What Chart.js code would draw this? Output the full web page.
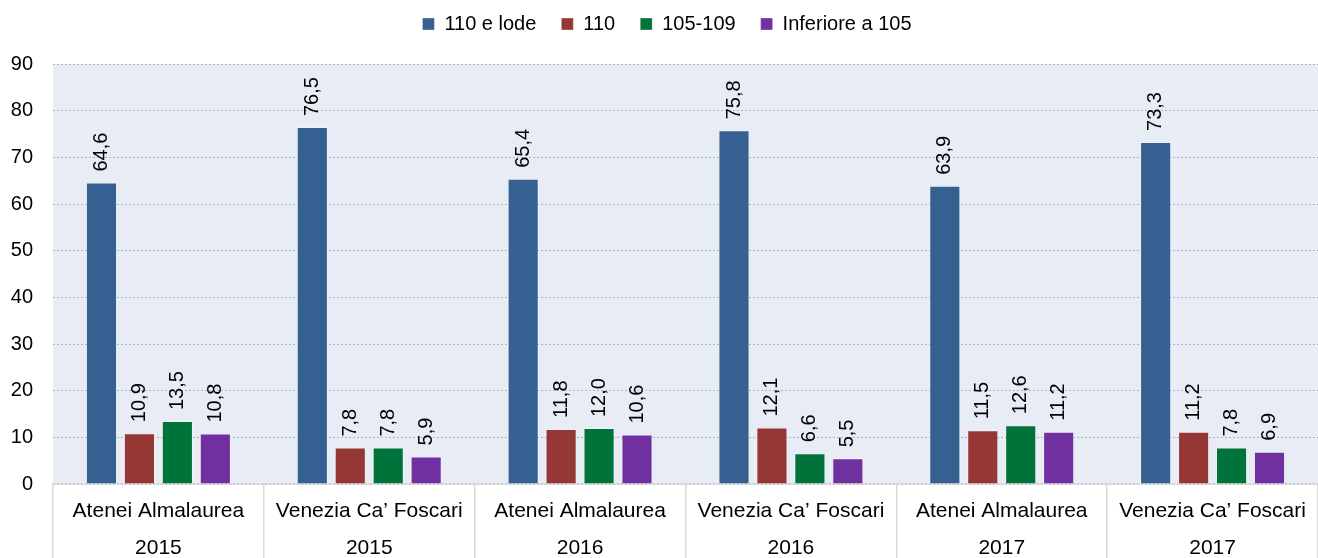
<!DOCTYPE html>
<html>
<head>
<meta charset="utf-8">
<script src="https://cdn.jsdelivr.net/npm/chart.js@4/dist/chart.umd.min.js"></script>
<style>
  html, body { margin: 0; padding: 0; background: #fff; }
  #wrap { width: 1318px; height: 558px; position: relative; }
</style>
</head>
<body>
<div id="wrap"><canvas id="votiChart"></canvas></div>
<script>
// categorie (ateneo + anno)
const categorie = [
    ['Atenei Almalaurea', '2015'],
    ['Venezia Ca\u2019 Foscari', '2015'],
    ['Atenei Almalaurea', '2016'],
    ['Venezia Ca\u2019 Foscari', '2016'],
    ['Atenei Almalaurea', '2017'],
    ['Venezia Ca\u2019 Foscari', '2017']
];
const serieNomi = ['110 e lode', '110', '105-109', 'Inferiore a 105'];
const lode = [64.6, 76.5, 65.4, 75.8, 63.9, 73.3];
const centodieci = [10.9, 7.8, 11.8, 12.1, 11.5, 11.2];
const da105a109 = [13.5, 7.8, 12.0, 6.6, 12.6, 7.8];
const inferiore105 = [10.8, 5.9, 10.6, 5.5, 11.2, 6.9];
const colori = ['#366092', '#953735', '#00733A', '#7030A0'];

const FONT = 'Liberation Sans, Arial, sans-serif';

// sfondo dell'area del grafico
const sfondoArea = {
    id: 'sfondoArea',
    afterLayout(chart) {
        // legenda un po' piu' in alto e a destra
        const lg = chart.legend;
        lg.top -= 20; lg.bottom -= 20;
        lg.left += 8; lg.right += 8;
    },
    beforeDraw(chart) {
        const a = chart.chartArea;
        const ctx = chart.ctx;
        ctx.save();
        ctx.fillStyle = '#E8ECF4';
        ctx.fillRect(a.left, a.top, a.right - a.left, a.bottom - a.top);
        ctx.restore();
    }
};

// etichette verticali sopra le barre
const etichette = {
    id: 'etichette',
    afterDatasetsDraw(chart) {
        const ctx = chart.ctx;
        ctx.save();
        ctx.font = '20px ' + FONT;
        ctx.fillStyle = '#000';
        ctx.textAlign = 'left';
        ctx.textBaseline = 'middle';
        chart.data.datasets.forEach(function(ds, i) {
            chart.getDatasetMeta(i).data.forEach(function(bar, j) {
                const txt = ds.data[j].toFixed(1).replace('.', ',');
                ctx.save();
                ctx.translate(bar.x, bar.y - 11);
                ctx.rotate(-Math.PI / 2);
                ctx.fillText(txt, 0, 0);
                ctx.restore();
            });
        });
        ctx.restore();
    }
};

const serieDati = [lode, centodieci, da105a109, inferiore105];

new Chart(document.getElementById('votiChart'), {
    type: 'bar',
    data: {
        labels: categorie,
        datasets: serieDati.map(function(d, i) {
            return {
                label: serieNomi[i],
                data: d,
                backgroundColor: colori[i],
                borderColor: 'rgba(255,255,255,0.35)',
                borderWidth: 1,
                categoryPercentage: 0.72,
                barPercentage: 0.82
            };
        })
    },
    options: {
        responsive: true,
        maintainAspectRatio: false,
        animation: false,
        devicePixelRatio: 1,
        layout: { padding: { top: -12, right: 0, left: 0, bottom: 0 } },
        plugins: {
            legend: {
                position: 'top',
                labels: {
                    boxWidth: 12,
                    boxHeight: 12,
                    padding: 25,
                    color: '#000',
                    font: { family: FONT, size: 20 }
                }
            },
            tooltip: { enabled: false }
        },
        scales: {
            x: {
                afterFit: function(s) { s.height = 74; },
                grid: {
                    offset: true,
                    drawOnChartArea: false,
                    drawTicks: true,
                    tickLength: 74,
                    color: '#D9D9D9',
                    lineWidth: 1.5
                },
                border: { color: '#D9D9D9', width: 1.5 },
                ticks: {
                    padding: -65,
                    color: '#000',
                    maxRotation: 0,
                    autoSkip: false,
                    font: { family: FONT, size: 21, lineHeight: 1.76 }
                }
            },
            y: {
                min: 0,
                max: 90,
                afterFit: function(s) { s.width = 53; s.paddingTop = 64; },
                ticks: {
                    stepSize: 10,
                    padding: 20,
                    color: '#000',
                    font: { family: FONT, size: 20 }
                },
                grid: {
                    color: '#A3B3CB',
                    lineWidth: 1,
                    drawTicks: false
                },
                border: { display: false, dash: [2, 2] }
            }
        }
    },
    plugins: [sfondoArea, etichette]
});
</script>
</body>
</html>
